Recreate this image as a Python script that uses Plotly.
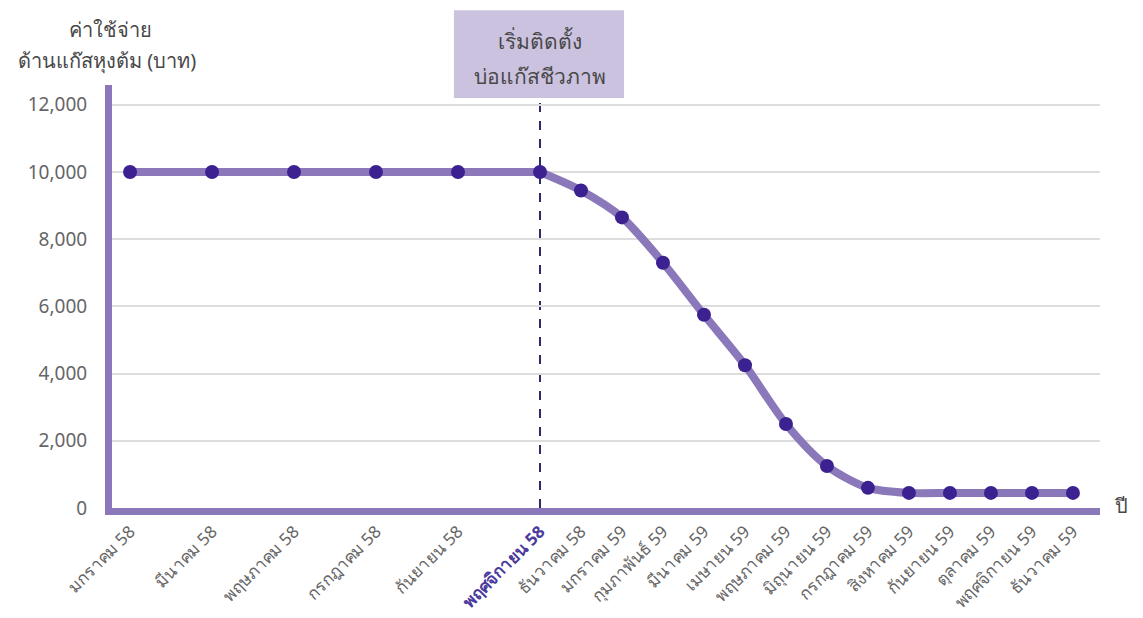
import plotly.graph_objects as go

months = ["มกราคม 58", "มีนาคม 58", "พฤษภาคม 58", "กรกฎาคม 58", "กันยายน 58",
          "พฤศจิกายน 58", "ธันวาคม 58", "มกราคม 59", "กุมภาพันธ์ 59", "มีนาคม 59",
          "เมษายน 59", "พฤษภาคม 59", "มิถุนายน 59", "กรกฎาคม 59", "สิงหาคม 59",
          "กันยายน 59", "ตุลาคม 59", "พฤศจิกายน 59", "ธันวาคม 59"]
month_index = [0, 2, 4, 6, 8, 10, 11, 12, 13, 14, 15, 16, 17, 18, 19, 20, 21, 22, 23]
cost = [10000, 10000, 10000, 10000, 10000, 10000, 9450, 8650, 7300, 5750, 4250,
        2500, 1250, 600, 450, 450, 450, 450, 450]
y_ticks = [0, 2000, 4000, 6000, 8000, 10000, 12000]
install_month = 10

k = month_index.index(install_month)

tick_text = []
for m, i in zip(months, month_index):
    if i == install_month:
        tick_text.append(f"<b><span style='color:#4a3a9c'>{m}</span></b>")
    else:
        tick_text.append(m)

FONT = "Noto Sans, DejaVu Sans, sans-serif"
LINE_C = "#8b78ba"

fig = go.Figure()
fig.add_shape(type="line", x0=install_month, x1=install_month, xref="x",
              y0=0, y1=0.97, yref="paper",
              line=dict(color="#2e2a6a", width=2, dash="dash"), layer="below")
# flat part before installation
fig.add_trace(go.Scatter(
    x=month_index[:k + 1], y=cost[:k + 1], mode="lines",
    line=dict(color=LINE_C, width=8), showlegend=False, hoverinfo="skip"))
# decline after installation
fig.add_trace(go.Scatter(
    x=month_index[k:], y=cost[k:], mode="lines",
    line=dict(color=LINE_C, width=8, shape="spline", smoothing=0.8),
    showlegend=False, hoverinfo="skip"))
fig.add_trace(go.Scatter(
    x=month_index, y=cost, mode="markers",
    marker=dict(color="#3c2290", size=14),
    showlegend=False, hoverinfo="skip"))

fig.add_shape(type="rect", x0=install_month - 2.1, x1=install_month + 2.05, xref="x",
              y0=0.969, y1=1.177, yref="paper",
              fillcolor="#cbc2df", line=dict(width=0))
fig.add_annotation(x=install_month, xref="x", y=1.104, yref="paper",
                   text="เริ่มติดตั้ง", showarrow=False, yanchor="middle",
                   font=dict(size=21, color="#484848", family=FONT))
fig.add_annotation(x=install_month, xref="x", y=1.021, yref="paper",
                   text="บ่อแก๊สชีวภาพ", showarrow=False, yanchor="middle",
                   font=dict(size=21, color="#484848", family=FONT))

fig.add_annotation(x=-0.002, xref="paper", y=1.132, yref="paper",
                   text="ค่าใช้จ่าย", showarrow=False,
                   xanchor="center", yanchor="middle",
                   font=dict(size=20, color="#484848", family=FONT))
fig.add_annotation(x=-0.005, xref="paper", y=1.057, yref="paper",
                   text="ด้านแก๊สหุงต้ม (บาท)", showarrow=False,
                   xanchor="center", yanchor="middle",
                   font=dict(size=20, color="#484848", family=FONT))
fig.add_annotation(x=1.022, xref="paper", y=0.006, yref="paper",
                   text="ปี", showarrow=False, xanchor="center", yanchor="middle",
                   font=dict(size=20, color="#484848", family=FONT))

fig.update_xaxes(range=[-0.44, 23.66], tickvals=month_index, ticktext=tick_text,
                 tickangle=-45, showgrid=False, zeroline=False, automargin=False,
                 showline=True, linecolor=LINE_C, linewidth=7,
                 tickfont=dict(size=17, color="#666666", family=FONT), ticks="")
fig.update_yaxes(range=[0, 12590], tickvals=y_ticks, tickformat=",",
                 showgrid=True, gridcolor="#dddddd", gridwidth=2, zeroline=False,
                 automargin=False,
                 showline=True, linecolor=LINE_C, linewidth=7,
                 tickfont=dict(size=19, color="#666666", family=FONT), ticks="",
                 ticklabelstandoff=14)

fig.update_layout(width=1143, height=618,
                  margin=dict(l=104, r=51, t=77, b=118),
                  plot_bgcolor="white", paper_bgcolor="white",
                  font=dict(family=FONT))
fig.write_html("out.html")
